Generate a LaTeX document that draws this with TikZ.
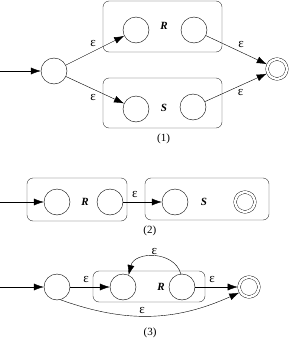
\documentclass[tikz,border=0pt]{standalone}
\usepackage{fontspec}
\setmainfont{Liberation Serif}
\usepackage{tikz}
\usetikzlibrary{arrows.meta, positioning}

\begin{document}
\begin{tikzpicture}[
    x=1pt, y=1pt,
    state/.style={circle, draw, minimum size=26pt, inner sep=0pt},
    accept/.style={circle, draw, double, double distance=2.4pt, minimum size=19.8pt, inner sep=0pt, outer sep=1.4pt},
    block/.style={rectangle, draw=black!80, rounded corners=6pt},
    tag/.style={font=\fontsize{11}{13}\selectfont\bfseries\itshape},
    eps/.style={font=\fontsize{13}{15}\selectfont, inner sep=1pt},
    caption/.style={font=\fontsize{11}{13}\selectfont},
    arrow/.style={-{Latex[length=10pt,width=7pt]}, thin}
]
\useasboundingbox (0,0) rectangle (292,-340);

% (1) union
\node[block, minimum width=119pt, minimum height=51pt] (bR1) at (162.5,-26.5) {};
\node[block, minimum width=119pt, minimum height=50pt] (bS1) at (162.5,-103) {};
\node[tag] (nR1) at (164,-26) {R};
\node[tag] (nS1) at (164,-108) {S};
\node[state] (q1) at (54,-71) {};
\node[state] (r1a) at (136,-30) {};
\node[state] (r1b) at (194,-30) {};
\node[state] (s1a) at (136,-109) {};
\node[state] (s1b) at (193,-107) {};
\node[accept] (f1) at (277,-69) {};
\node[caption, below=2pt of bS1, xshift=1pt] (c1) {(1)};
\coordinate (in1) at (0,-71);

\draw[arrow] (in1) -- (q1);
\draw[arrow] (q1) -- node[eps, above=3pt, xshift=-2pt] {ε} (r1a);
\draw[arrow] (q1) -- node[eps, below=3pt, xshift=-2pt] {ε} (s1a);
\draw[arrow] (r1b) -- node[eps, above right=1pt] {ε} (f1);
\draw[arrow] (s1b) -- node[eps, below right=1pt] {ε} (f1);

% (2) concatenation
\node[block, minimum width=100pt, minimum height=43pt] (bR2) at (77,-199.5) {};
\node[block, minimum width=124pt, minimum height=42pt] (bS2) at (207,-199) {};
\node[tag] (nR2) at (85,-202) {R};
\node[tag] (nS2) at (204,-202) {S};
\node[state] (r2a) at (57,-202) {};
\node[state] (r2b) at (110,-202) {};
\node[state] (s2a) at (175,-202) {};
\node[accept] (f2) at (245,-202) {};
\node[caption, below=2pt of bS2.south west, xshift=5pt] (c2) {(2)};
\coordinate (in2) at (0,-202);

\draw[arrow] (in2) -- (r2a);
\draw[arrow] (r2b) -- node[eps, above=3pt, pos=0.3] {ε} (s2a);

% (3) closure
\node[block, minimum width=112pt, minimum height=31pt] (bR3) at (149,-286.5) {};
\node[tag] (nR3) at (161,-287) {R};
\node[state] (q3) at (57,-287) {};
\node[state] (r3a) at (123,-287) {};
\node[state] (r3b) at (182,-287) {};
\node[accept] (f3) at (249,-287) {};
\node[caption] (c3) at (150,-333) {(3)};
\coordinate (in3) at (0,-287);

\draw[arrow] (in3) -- (q3);
\draw[arrow] (q3) -- node[eps, above=3pt, pos=0.4] {ε} (r3a);
\draw[arrow] (r3b) -- node[eps, above=3pt, pos=0.4] {ε} (f3);
\draw[arrow] (r3b.95) to[bend right=75, looseness=1.2] node[eps, above=1pt] {ε} (r3a.65);
\draw[arrow] (q3.-75) to[bend right=22] node[eps, above=1pt, pos=0.45] {ε} (f3.-150);
\end{tikzpicture}
\end{document}
